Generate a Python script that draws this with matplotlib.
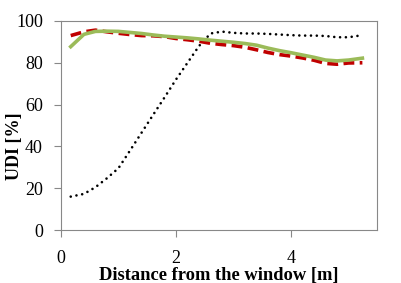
import matplotlib
matplotlib.use("Agg")
import matplotlib.pyplot as plt

# distance from window [m]
dist = [0.17, 0.4, 0.6, 0.8, 1.0, 1.2, 1.4, 1.6, 1.8, 2.0, 2.2, 2.4, 2.6,
        2.8, 3.0, 3.2, 3.4, 3.6, 3.8, 4.0, 4.2, 4.4, 4.6, 4.8, 5.0, 5.24]

udi_black = [16, 17.3, 20.5, 24.8, 29.6, 38, 46.5, 55, 63.4, 72, 80, 88, 94,
             94.9, 94.3, 94, 94, 93.8, 93.5, 93.2, 93, 93, 92.8, 92.2, 92.2, 93.2]
udi_red = [93, 94.8, 95.6, 94.8, 94.1, 93.5, 93, 92.9, 92.5, 91.6, 91, 90.3, 89.3,
           88.7, 88.2, 87.4, 86.2, 84.9, 83.9, 83.2, 82.3, 81.2, 79.7, 79.3, 79.9, 80]
udi_green = [87.7, 93.6, 95, 95.1, 95, 94.5, 94, 93.3, 92.7, 92.3, 91.9, 91.4, 90.8,
             90.3, 89.8, 89.2, 88.4, 87, 85.8, 84.8, 83.7, 82.6, 81.3, 80.9, 81.3, 82.2]

plt.rcParams['font.family'] = ['Liberation Serif', 'DejaVu Serif']

fig = plt.figure(figsize=(4.01, 2.83), dpi=100)
ax = fig.add_axes([0.152, 0.187, 0.789, 0.739])

ax.plot(dist, udi_black, color='black', lw=1.9, linestyle=(0, (0.01, 2.2)),
        dash_capstyle='round')
ax.plot(dist, udi_red, color='#C00000', lw=2.6, linestyle=(0, (3, 1.5)))
ax.plot(dist, udi_green, color='#9BBB59', lw=2.6)

ax.set_xlim(0, 5.5)
ax.set_ylim(0, 100)
ax.set_xticks([0, 2, 4])
ax.set_yticks([0, 20, 40, 60, 80, 100])

for s in ax.spines.values():
    s.set_color('#888888')
ax.tick_params(colors='#888888', labelcolor='black', labelsize=13, length=5)
ax.tick_params(axis='x', pad=9)
ax.tick_params(axis='y', pad=8)

ax.set_xlabel('Distance from the window [m]', fontsize=13.3, fontweight='bold',
              labelpad=0)
ax.set_ylabel('UDI [%]', fontsize=13, fontweight='bold')
ax.yaxis.set_label_coords(-0.12, 0.40)

fig.savefig('out.png', dpi=100)
